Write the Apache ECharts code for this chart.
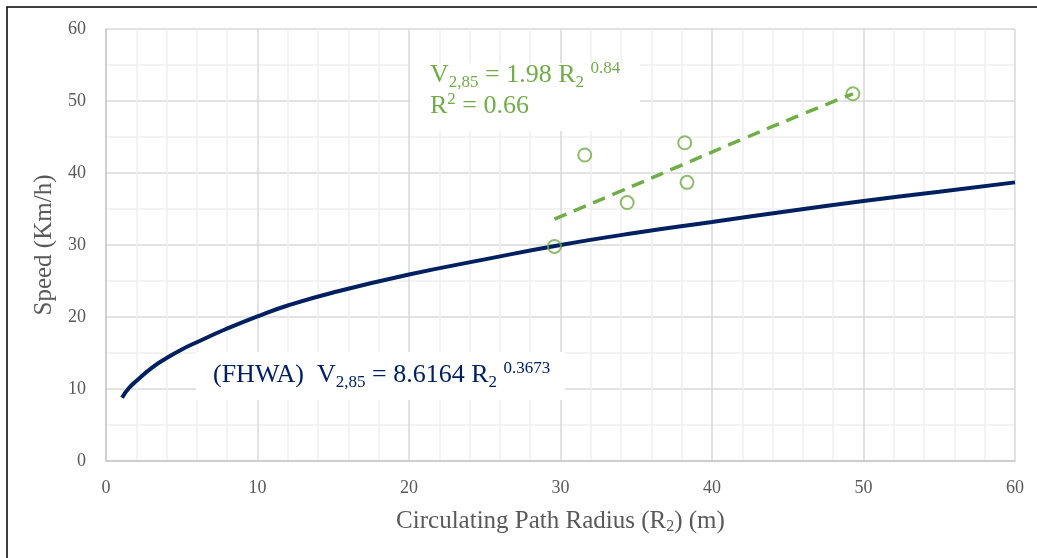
<!DOCTYPE html>
<html>
<head>
<meta charset="utf-8">
<script src="https://cdn.jsdelivr.net/npm/echarts@6/dist/echarts.min.js"></script>
<style>
html,body{margin:0;padding:0;background:#fff;}
#chart{width:1037px;height:558px;}
</style>
</head>
<body>
<div id="chart"></div>
<script>
// ---- data ----
const xTicks = [0, 10, 20, 30, 40, 50, 60];
const yTicks = [0, 10, 20, 30, 40, 50, 60];

// FHWA curve, points
const fhwaR = [1.06, 1.5, 2, 3, 4, 5, 6, 8, 10, 12, 15, 20, 25, 30, 35, 40, 45, 50, 55, 60];
const fhwaV = [8.8, 10.1, 11.1, 12.9, 14.3, 15.5, 16.5, 18.4, 20.1, 21.6, 23.4, 25.9, 28.0, 30.0, 31.7, 33.2, 34.7, 36.1, 37.4, 38.7];

// observed points (green circles)
const obsR = [29.6, 31.6, 34.4, 38.2, 38.35, 49.3];
const obsV = [29.8, 42.5, 35.9, 44.2, 38.7, 51.0];

// fitted trend (green dashed)
const fitR = [29.6, 34, 38, 42, 46, 49.3];
const fitV = [33.6, 37.5, 41.1, 44.7, 48.2, 51.0];

const GREEN = '#70AD47';
const NAVY = '#002060';
const GRAY = '#595959';
const SERIF = '"Liberation Serif", "Times New Roman", serif';

const chart = echarts.init(document.getElementById('chart'), null, {renderer: 'canvas'});

function zip(a, b) { return a.map((v, i) => [v, b[i]]); }

const tokMain = (c) => ({font: '26px ' + SERIF, fill: c, lineHeight: 31});
const tokSub = (c) => ({font: '17px ' + SERIF, fill: c, lineHeight: 14, verticalAlign: 'bottom'});
const tokSup = (c) => ({font: '17px ' + SERIF, fill: c, lineHeight: 20, verticalAlign: 'top'});

const option = {
  animation: false,
  backgroundColor: '#fff',
  grid: {left: 106, right: 22, top: 29, bottom: 97, containLabel: false},
  xAxis: {
    type: 'value', min: xTicks[0], max: xTicks[xTicks.length - 1], interval: 10,
    name: 'Circulating Path Radius (R{s|2}) (m)',
    nameLocation: 'middle', nameGap: 46,
    nameTextStyle: {fontFamily: SERIF, fontSize: 25, color: GRAY, lineHeight: 28,
      rich: {s: {fontFamily: SERIF, fontSize: 16, color: GRAY, lineHeight: 12, verticalAlign: 'bottom'}}},
    axisLine: {show: true, lineStyle: {color: '#c8c8c8', width: 1.5}},
    axisTick: {show: false},
    axisLabel: {fontFamily: SERIF, fontSize: 18, color: GRAY, margin: 18},
    splitLine: {show: true, lineStyle: {color: '#d9d9d9', width: 1.5}},
    minorTick: {show: false, splitNumber: 5},
    minorSplitLine: {show: true, lineStyle: {color: '#f0f0f0', width: 1.5}}
  },
  yAxis: {
    type: 'value', min: yTicks[0], max: yTicks[yTicks.length - 1], interval: 10,
    name: 'Speed (Km/h)', nameLocation: 'middle', nameGap: 47,
    nameTextStyle: {fontFamily: SERIF, fontSize: 25, color: GRAY},
    axisLine: {show: true, lineStyle: {color: '#c8c8c8', width: 1.5}},
    axisTick: {show: false},
    axisLabel: {fontFamily: SERIF, fontSize: 18, color: GRAY, margin: 20},
    splitLine: {show: true, lineStyle: {color: '#d9d9d9', width: 1.5}},
    minorTick: {show: false, splitNumber: 2},
    minorSplitLine: {show: true, lineStyle: {color: '#f0f0f0', width: 1.5}}
  },
  series: [
    {
      name: 'FHWA', type: 'line', data: zip(fhwaR, fhwaV), smooth: true,
      symbol: 'none', lineStyle: {color: NAVY, width: 4}, z: 2
    },
    {
      name: 'Fit', type: 'line', data: zip(fitR, fitV), smooth: true,
      symbol: 'none', lineStyle: {color: GREEN, width: 3.5, type: [13, 8]}, z: 3
    },
    {
      name: 'Observed', type: 'scatter', data: zip(obsR, obsV),
      symbol: 'circle', symbolSize: 13,
      itemStyle: {color: 'rgba(255,255,255,0)', borderColor: GREEN, borderWidth: 2}, z: 4
    }
  ],
  graphic: [
    {type: 'polyline', z: 10, shape: {points: [[7, 600], [7, 7], [1100, 7]]},
      style: {stroke: '#000', lineWidth: 1.5, fill: null}},
    {type: 'rect', z: 5, shape: {x: 410, y: 63, width: 230, height: 68}, style: {fill: '#fff'}},
    {type: 'text', z: 6, x: 430, y: 60,
      style: {
        text: '{m|V}{s|2,85}{m| = 1.98 R}{s|2}{m| }{p|0.84}\n{m|R}{p|2}{m| = 0.66}',
        align: 'left', verticalAlign: 'top',
        rich: {m: tokMain(GREEN), s: tokSub(GREEN), p: tokSup(GREEN)}
      }},
    {type: 'rect', z: 5, shape: {x: 196, y: 352, width: 369, height: 48}, style: {fill: '#fff'}},
    {type: 'text', z: 6, x: 213, y: 360,
      style: {
        text: '{m|(FHWA)  V}{s|2,85}{m| = 8.6164 R}{s|2}{m| }{p|0.3673}',
        align: 'left', verticalAlign: 'top',
        rich: {m: tokMain(NAVY), s: tokSub(NAVY), p: tokSup(NAVY)}
      }}
  ]
};

chart.setOption(option);
</script>
</body>
</html>
